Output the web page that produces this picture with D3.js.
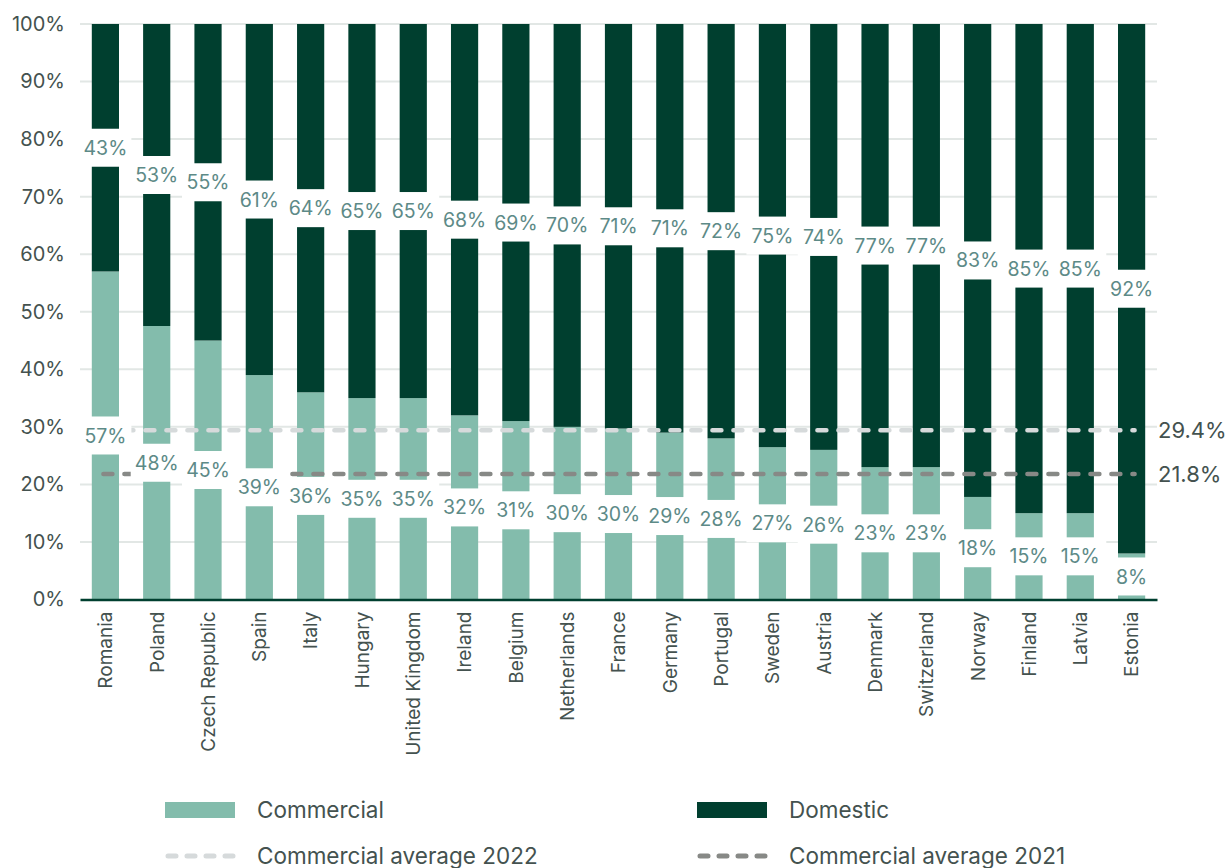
<!DOCTYPE html>
<html>
<head>
<meta charset="utf-8">
<script src="https://cdn.jsdelivr.net/npm/d3@7"></script>
<style>
  body { margin: 0; background: #fff; }
  svg { display: block; font-family: Inter, "Open Sans", sans-serif; }
</style>
</head>
<body>
<div id="chart"></div>
<script>
var countries = ["Romania", "Poland", "Czech Republic", "Spain", "Italy", "Hungary",
  "United Kingdom", "Ireland", "Belgium", "Netherlands", "France", "Germany",
  "Portugal", "Sweden", "Austria", "Denmark", "Switzerland", "Norway",
  "Finland", "Latvia", "Estonia"];
var commercial = [57, 48, 45, 39, 36, 35, 35, 32, 31, 30, 30, 29, 28, 27, 26, 23, 23, 18, 15, 15, 8];
var domestic = [43, 53, 55, 61, 64, 65, 65, 68, 69, 70, 71, 71, 72, 75, 74, 77, 77, 83, 85, 85, 92];
var avg2022 = 0.294;
var avg2021 = 0.218;
var yTicks = [0, 0.1, 0.2, 0.3, 0.4, 0.5, 0.6, 0.7, 0.8, 0.9, 1];

function drawChart() {
  var w = 1231, h = 868;
  var plotLeft = 80, plotRight = 1157, plotTop = 24, plotBottom = 599.5;

  var colComm = "#83bcac";
  var colDom = "#003f2f";
  var textCol = "#44524f";
  var labelCol = "#5d8a87";

  var svg = d3.select("#chart").append("svg")
    .attr("width", w).attr("height", h);

  var rows = countries.map(function (c, i) {
    return { country: c, Commercial: commercial[i], Domestic: domestic[i] };
  });
  var keys = ["Commercial", "Domestic"];
  var stacked = d3.stack().keys(keys).offset(d3.stackOffsetExpand)(rows);

  var x = d3.scaleBand().domain(countries).range([plotLeft, plotRight])
    .paddingInner(0.47).paddingOuter(0.23);
  var y = d3.scaleLinear().domain([0, 1]).range([plotBottom, plotTop]);
  var color = d3.scaleOrdinal().domain(keys).range([colComm, colDom]);

  // gridlines
  svg.append("g")
    .selectAll("line")
    .data(yTicks.slice(1))
    .enter().append("line")
    .attr("x1", plotLeft).attr("x2", plotRight)
    .attr("y1", function (d) { return y(d); })
    .attr("y2", function (d) { return y(d); })
    .attr("stroke", "#e2e7e5").attr("stroke-width", 2);

  // y axis labels
  var yAxis = d3.axisLeft(y).tickValues(yTicks).tickFormat(d3.format(".0%"))
    .tickSize(0).tickPadding(15);
  var gy = svg.append("g").attr("transform", "translate(" + plotLeft + ",0)").call(yAxis);
  gy.select(".domain").remove();
  gy.selectAll("text").attr("font-size", "20px").attr("fill", textCol)
    .attr("font-family", "Inter, sans-serif");

  // bars
  svg.append("g")
    .selectAll("g")
    .data(stacked)
    .enter().append("g")
    .attr("fill", function (d) { return color(d.key); })
    .selectAll("rect")
    .data(function (d) { return d; })
    .enter().append("rect")
    .attr("x", function (d) { return x(d.data.country); })
    .attr("y", function (d) { return y(d[1]); })
    .attr("width", x.bandwidth())
    .attr("height", function (d) { return y(d[0]) - y(d[1]); });

  // average lines
  var lx0 = x(countries[0]) + x.bandwidth() / 2 - 2;
  var lx1 = x(countries[countries.length - 1]) + x.bandwidth() / 2 + 3;
  var avgs = [
    { v: avg2022, c: "#d6dadb", label: "29.4%" },
    { v: avg2021, c: "#878986", label: "21.8%" }
  ];
  svg.append("g")
    .selectAll("line")
    .data(avgs)
    .enter().append("line")
    .attr("x1", lx0).attr("x2", lx1)
    .attr("y1", function (d) { return y(d.v); })
    .attr("y2", function (d) { return y(d.v); })
    .attr("stroke", function (d) { return d.c; })
    .attr("stroke-width", 4.5)
    .attr("stroke-linecap", "round")
    .attr("stroke-dasharray", "9,12");

  svg.append("g")
    .selectAll("text")
    .data(avgs)
    .enter().append("text")
    .attr("x", plotRight + 1)
    .attr("y", function (d) { return y(d.v); })
    .attr("dy", "0.36em")
    .attr("font-size", "22px")
    .attr("fill", textCol)
    .text(function (d) { return d.label; });

  // segment labels with white boxes
  var segs = [];
  stacked.forEach(function (s) {
    s.forEach(function (d) {
      segs.push({ country: d.data.country, mid: (d[0] + d[1]) / 2, value: d.data[s.key] });
    });
  });
  var lab = svg.append("g")
    .selectAll("g")
    .data(segs)
    .enter().append("g")
    .attr("transform", function (d) {
      return "translate(" + (x(d.country) + x.bandwidth() / 2) + "," + y(d.mid) + ")";
    });
  lab.append("rect")
    .attr("x", -26).attr("y", -19)
    .attr("width", 52).attr("height", 38)
    .attr("fill", "#fff");
  lab.append("text")
    .attr("text-anchor", "middle")
    .attr("dy", "0.36em")
    .attr("font-size", "19.5px")
    .attr("fill", labelCol)
    .text(function (d) { return d.value + "%"; });

  // x axis
  var xAxis = d3.axisBottom(x).tickSize(0).tickPadding(0);
  var gx = svg.append("g").attr("transform", "translate(0," + plotBottom + ")").call(xAxis);
  gx.select(".domain").attr("stroke", colDom).attr("stroke-width", 2.5);
  gx.selectAll("text")
    .attr("transform", "rotate(-90)")
    .attr("text-anchor", "end")
    .attr("x", -12)
    .attr("y", 0)
    .attr("dy", "0.36em")
    .attr("font-size", "19px")
    .attr("font-family", "Inter, sans-serif")
    .attr("fill", textCol);

  // legend
  var legend = [
    { name: "Commercial", type: "rect", c: colComm, lx: 165, ly: 810 },
    { name: "Domestic", type: "rect", c: colDom, lx: 697, ly: 810 },
    { name: "Commercial average 2022", type: "line", c: "#d6dadb", lx: 165, ly: 856 },
    { name: "Commercial average 2021", type: "line", c: "#878986", lx: 697, ly: 856 }
  ];
  var lg = svg.append("g")
    .selectAll("g")
    .data(legend)
    .enter().append("g")
    .attr("transform", function (d) { return "translate(" + d.lx + "," + d.ly + ")"; });
  lg.filter(function (d) { return d.type === "rect"; })
    .append("rect")
    .attr("x", 0).attr("y", -8).attr("width", 70).attr("height", 16)
    .attr("fill", function (d) { return d.c; });
  lg.filter(function (d) { return d.type === "line"; })
    .append("line")
    .attr("x1", 3).attr("x2", 68).attr("y1", 0).attr("y2", 0)
    .attr("stroke", function (d) { return d.c; })
    .attr("stroke-width", 5)
    .attr("stroke-linecap", "round")
    .attr("stroke-dasharray", "8,11");
  lg.append("text")
    .attr("x", 92)
    .attr("dy", "0.36em")
    .attr("font-size", "22.5px")
    .attr("fill", textCol)
    .text(function (d) { return d.name; });
}

drawChart();
</script>
</body>
</html>
